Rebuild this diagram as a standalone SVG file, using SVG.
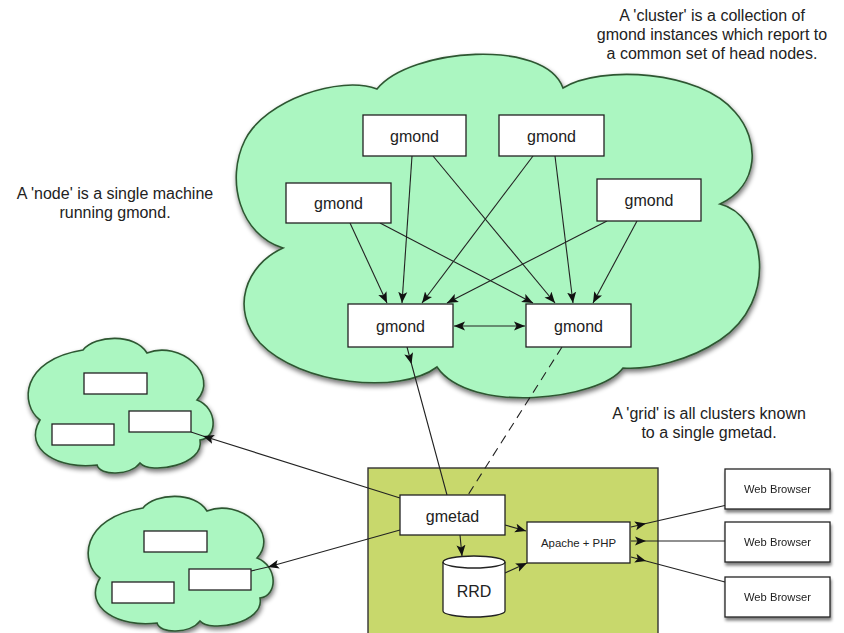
<svg xmlns="http://www.w3.org/2000/svg" width="844" height="633" viewBox="0 0 844 633">
<style>
text{font-family:"Liberation Sans",Arial,sans-serif;fill:#222;text-anchor:middle}
.cloud{fill:#abf6c1;stroke:#2e5732;stroke-width:1.6;filter:url(#sh)}
.box{fill:#fff;stroke:#222;stroke-width:1.3}
.lbl{font-size:16px}
.ln{fill:none;stroke:#222;stroke-width:1.1}
.note{font-size:16px}
</style>
<defs>
<filter id="sh" x="-10%" y="-10%" width="125%" height="130%">
<feGaussianBlur in="SourceAlpha" stdDeviation="2.5"/>
<feOffset dx="1" dy="3" result="b"/>
<feComponentTransfer><feFuncA type="linear" slope="0.55"/></feComponentTransfer>
<feMerge><feMergeNode/><feMergeNode in="SourceGraphic"/></feMerge>
</filter>
<filter id="sh2" x="-10%" y="-10%" width="125%" height="140%">
<feGaussianBlur in="SourceAlpha" stdDeviation="1.5"/>
<feOffset dx="1" dy="2.5"/>
<feComponentTransfer><feFuncA type="linear" slope="0.5"/></feComponentTransfer>
<feMerge><feMergeNode/><feMergeNode in="SourceGraphic"/></feMerge>
</filter>
<marker id="ah" markerUnits="userSpaceOnUse" markerWidth="12" markerHeight="10" viewBox="0 0 12 10" refX="11" refY="5" orient="auto-start-reverse">
<path d="M0,0.5 L11,5 L0,9.5 L2.5,5 Z" fill="#111"/>
</marker>
<marker id="am" markerUnits="userSpaceOnUse" markerWidth="12" markerHeight="10" viewBox="0 0 12 10" refX="11" refY="5" orient="auto">
<path d="M0,0.5 L11,5 L0,9.5 L2.5,5 Z" fill="#111"/>
</marker>
<path id="sc" d="M83,350 C95,335 135,333 147,353 C180,340 220,375 197,400 C218,408 218,438 200,440 C205,465 150,475 140,463 C130,476 100,476 97,465 C60,470 22,450 40,420 C20,405 20,360 83,350 Z"/>
</defs>
<rect width="844" height="633" fill="#fff"/>

<g id="cluster-cloud">
<path class="cloud" d="M377,89 C410,48 545,38 563,88 C600,65 700,70 735,112 C760,140 760,185 720,204 C765,215 780,300 720,340 C690,360 650,370 623,368 C600,400 470,415 437,367 C400,395 300,385 260,343 C230,310 245,265 283,248 C240,235 225,180 245,140 C265,100 340,75 377,89 Z"/>
</g>

<g id="cloud-small-1">
<use href="#sc" class="cloud"/>
<rect class="box" x="84" y="373" width="63" height="21"/>
<rect class="box" x="129" y="411" width="62" height="21"/>
<rect class="box" x="52" y="424" width="62" height="21"/>
</g>
<g id="cloud-small-2" transform="translate(60,158)">
<use href="#sc" class="cloud"/>
<rect class="box" x="84" y="373" width="63" height="21"/>
<rect class="box" x="129" y="411" width="62" height="21"/>
<rect class="box" x="52" y="424" width="62" height="21"/>
</g>

<g id="gmetad-host">
<rect x="368" y="468" width="290" height="175" fill="#c8d86c" stroke="#333" stroke-width="1.4"/>
</g>

<g id="connectors">
<path class="ln" marker-end="url(#ah)" d="M412,156 L402,303"/>
<path class="ln" marker-end="url(#ah)" d="M433,156 L555,303"/>
<path class="ln" marker-end="url(#ah)" d="M533,156 L422,303"/>
<path class="ln" marker-end="url(#ah)" d="M555,156 L573,303"/>
<path class="ln" marker-end="url(#ah)" d="M350,223 L387,303"/>
<path class="ln" marker-end="url(#ah)" d="M380,223 L533,303"/>
<path class="ln" marker-end="url(#ah)" d="M607,221 L447,303"/>
<path class="ln" marker-end="url(#ah)" d="M637,221 L593,303"/>
<path class="ln" marker-start="url(#ah)" marker-end="url(#ah)" d="M454,326 L525,326"/>
<path class="ln" marker-mid="url(#am)" d="M407,347 L411.5,364 L447,495"/>
<path class="ln" stroke-dasharray="9,6" d="M562,347 L468,495"/>
<path class="ln" marker-mid="url(#am)" d="M400,498 L203,436 L191,432"/>
<path class="ln" marker-mid="url(#am)" d="M400,530 L268,567 L251,571"/>
<path class="ln" marker-end="url(#ah)" d="M460,535 L462,556"/>
<path class="ln" marker-end="url(#ah)" d="M505,525 L526,531"/>
<path class="ln" marker-end="url(#ah)" d="M505,573 L527,563"/>
<path class="ln" marker-mid="url(#am)" d="M631,527 L646,523.5 L727,505"/>
<path class="ln" marker-mid="url(#am)" d="M631,541 L646,541 L725,541"/>
<path class="ln" marker-mid="url(#am)" d="M631,557 L646,561 L725,582"/>
</g>

<g id="gmond-tl"><rect class="box" x="363" y="115" width="103" height="41"/><text class="lbl" x="414.5" y="141.5">gmond</text></g>
<g id="gmond-tr"><rect class="box" x="499" y="115" width="105" height="41"/><text class="lbl" x="551.5" y="141.5">gmond</text></g>
<g id="gmond-ml"><rect class="box" x="286" y="183" width="105" height="40"/><text class="lbl" x="338.5" y="209">gmond</text></g>
<g id="gmond-mr"><rect class="box" x="597" y="179" width="104" height="42"/><text class="lbl" x="649" y="206">gmond</text></g>
<g id="gmond-bl"><rect class="box" x="348" y="304" width="105" height="43"/><text class="lbl" x="400.5" y="331.5">gmond</text></g>
<g id="gmond-br"><rect class="box" x="526" y="304" width="105" height="43"/><text class="lbl" x="578.5" y="331.5">gmond</text></g>

<g id="gmetad"><rect class="box" x="400" y="495" width="105" height="40"/><text class="lbl" x="452.5" y="521.5">gmetad</text></g>
<g id="rrd">
<path d="M443,562 A31,6 0 0,1 505,562 L505,611 A31,6 0 0,1 443,611 Z" fill="#fff" stroke="#222" stroke-width="1.3"/>
<path d="M443,562 A31,6 0 0,0 505,562" fill="none" stroke="#222" stroke-width="1.3"/>
<text class="lbl" x="474" y="597">RRD</text>
</g>
<g id="apache"><rect class="box" x="527" y="522" width="103" height="41"/><text x="578.5" y="546.5" font-size="11.4">Apache + PHP</text></g>

<g id="browser-1" filter="url(#sh2)"><rect class="box" x="725" y="469" width="105" height="40"/><text x="777.5" y="493" font-size="11.2">Web Browser</text></g>
<g id="browser-2" filter="url(#sh2)"><rect class="box" x="725" y="522" width="105" height="40"/><text x="777.5" y="546" font-size="11.2">Web Browser</text></g>
<g id="browser-3" filter="url(#sh2)"><rect class="box" x="725" y="577" width="105" height="40"/><text x="777.5" y="601" font-size="11.2">Web Browser</text></g>

<g id="notes">
<text class="note" x="712" y="21">A 'cluster' is a collection of</text>
<text class="note" x="712" y="40">gmond instances which report to</text>
<text class="note" x="712" y="59">a common set of head nodes.</text>
<text class="note" x="115" y="199">A 'node' is a single machine</text>
<text class="note" x="115" y="218">running gmond.</text>
<text class="note" x="709" y="419">A 'grid' is all clusters known</text>
<text class="note" x="709" y="438">to a single gmetad.</text>
</g>
</svg>
